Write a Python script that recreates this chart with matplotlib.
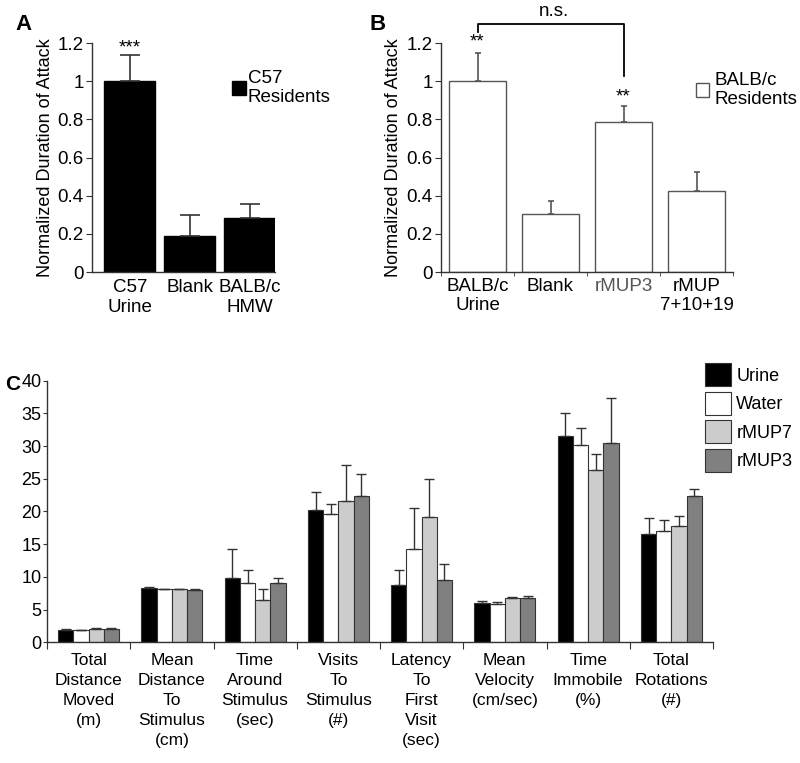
import numpy as np
import matplotlib
matplotlib.use('Agg')
import matplotlib.pyplot as plt
from matplotlib.patches import Patch

plt.rcParams['font.family'] = ['Liberation Sans', 'DejaVu Sans']

# panel A
a_labels = ['C57\nUrine', 'Blank', 'BALB/c\nHMW']
a_mean = [1.0, 0.19, 0.285]
a_err = [0.135, 0.108, 0.07]

# panel B
b_labels = ['BALB/c\nUrine', 'Blank', 'rMUP3', 'rMUP\n7+10+19']
b_mean = [1.0, 0.306, 0.784, 0.426]
b_err = [0.145, 0.068, 0.088, 0.10]

# panel C
c_labels = ['Total\nDistance\nMoved\n(m)', 'Mean\nDistance\nTo\nStimulus\n(cm)',
            'Time\nAround\nStimulus\n(sec)', 'Visits\nTo\nStimulus\n(#)',
            'Latency\nTo\nFirst\nVisit\n(sec)', 'Mean\nVelocity\n(cm/sec)',
            'Time\nImmobile\n(%)', 'Total\nRotations\n(#)']
series = ['Urine', 'Water', 'rMUP7', 'rMUP3']
urine = [1.9, 8.25, 9.8, 20.3, 8.7, 6.05, 31.6, 16.6]
urine_err = [0.1, 0.25, 4.4, 2.7, 2.35, 0.25, 3.5, 2.45]
water = [1.85, 8.1, 9.1, 19.55, 14.2, 5.8, 30.2, 17.0]
water_err = [0.05, 0.1, 1.9, 1.65, 6.4, 0.35, 2.5, 1.7]
rmup7 = [2.1, 8.15, 6.5, 21.55, 19.1, 6.7, 26.3, 17.8]
rmup7_err = [0.1, 0.05, 1.6, 5.55, 5.8, 0.3, 2.55, 1.45]
rmup3 = [2.1, 7.95, 9.0, 22.3, 9.6, 6.7, 30.4, 22.4]
rmup3_err = [0.1, 0.15, 0.9, 3.4, 2.3, 0.45, 7.0, 1.1]

W, H = 800, 763
fig = plt.figure(figsize=(W / 100, H / 100), dpi=100)

def fr(x0, y0, x1, y1):
    # pixel box -> figure fraction rect
    return [x0 / W, 1 - y1 / H, (x1 - x0) / W, (y1 - y0) / H]

ink = '#333333'
fs = 13.5

def style(ax):
    for s in ['top', 'right']:
        ax.spines[s].set_visible(False)
    for s in ['left', 'bottom']:
        ax.spines[s].set_color(ink)
        ax.spines[s].set_linewidth(1.0)

# ---- A
axA = fig.add_axes(fr(92, 43, 275, 272))
xa = np.arange(len(a_mean))
axA.bar(xa, a_mean, width=0.85, color='black', edgecolor='black',
        yerr=[np.zeros(len(a_err)), a_err], capsize=7,
        error_kw=dict(ecolor=ink, elinewidth=1.2, capthick=1.2))
axA.set_xlim(-0.633, 2.417)
axA.set_ylim(0, 1.2)
axA.set_yticks([0, 0.2, 0.4, 0.6, 0.8, 1.0, 1.2])
axA.set_yticklabels(['0', '0.2', '0.4', '0.6', '0.8', '1', '1.2'])
axA.set_xticks(xa)
axA.set_xticklabels(a_labels, linespacing=1.2)
axA.tick_params(axis='x', length=0, pad=5, labelsize=fs)
axA.tick_params(axis='y', length=4, pad=2, labelsize=fs, color=ink)
axA.set_ylabel('Normalized Duration of Attack', fontsize=13)
axA.yaxis.set_label_coords(-0.21, 0.5)
style(axA)
axA.text(0, 1.13, '***', ha='center', va='bottom', fontsize=fs)
axA.legend(handles=[Patch(facecolor='black', edgecolor='black')],
           labels=['C57\nResidents'], loc='center left',
           bbox_to_anchor=(232 / W, 1 - 88 / H), bbox_transform=fig.transFigure,
           frameon=False, borderpad=0, borderaxespad=0, handlelength=0.75,
           handleheight=0.75, handletextpad=0.1, fontsize=fs)

# ---- B
axB = fig.add_axes(fr(441, 43, 733, 272))
xb = np.arange(len(b_mean))
axB.bar(xb, b_mean, width=0.78, color='white', edgecolor='#555555', linewidth=1.0,
        yerr=[np.zeros(len(b_err)), b_err], capsize=2.5,
        error_kw=dict(ecolor='#555555', elinewidth=1.2, capthick=1.2))
axB.set_xlim(-0.5, 3.5)
axB.set_ylim(0, 1.2)
axB.set_yticks([0, 0.2, 0.4, 0.6, 0.8, 1.0, 1.2])
axB.set_yticklabels(['0', '0.2', '0.4', '0.6', '0.8', '1', '1.2'])
axB.set_xticks(xb)
axB.set_xticklabels(b_labels, linespacing=1.2)
axB.get_xticklabels()[2].set_color('#555555')
axB.set_xticks(np.arange(-0.5, 4, 1.0), minor=True)
axB.tick_params(axis='x', which='major', length=0, pad=4, labelsize=fs)
axB.tick_params(axis='x', which='minor', length=3, color=ink)
axB.tick_params(axis='y', length=4, pad=2, labelsize=fs, color=ink)
axB.set_ylabel('Normalized Duration of Attack', fontsize=13)
axB.yaxis.set_label_coords(-0.134, 0.5)
style(axB)
axB.text(0, 1.16, '**', ha='center', va='bottom', fontsize=fs)
axB.text(2, 0.875, '**', ha='center', va='bottom', fontsize=fs)
axB.plot([0, 0, 2, 2], [1.258, 1.30, 1.30, 1.027], color='black', lw=1.3, clip_on=False)
axB.text(1.05, 1.32, 'n.s.', ha='center', va='bottom', fontsize=fs)
axB.legend(handles=[Patch(facecolor='white', edgecolor='#555555')],
           labels=['BALB/c\nResidents'], loc='center left',
           bbox_to_anchor=(696 / W, 1 - 90 / H), bbox_transform=fig.transFigure,
           frameon=False, borderpad=0, borderaxespad=0, handlelength=0.7,
           handleheight=0.7, handletextpad=0.3, fontsize=fs)

# ---- C
axC = fig.add_axes(fr(47, 380.7, 713, 642.3))
xc = np.arange(len(urine)) + 0.5
bw = 0.183
colors = ['black', 'white', '#cccccc', '#808080']
vals = [urine, water, rmup7, rmup3]
errs = [urine_err, water_err, rmup7_err, rmup3_err]
for i, (v, e, c, name) in enumerate(zip(vals, errs, colors, series)):
    axC.bar(xc + (i - 1.5) * bw, v, width=bw, color=c, edgecolor=ink, linewidth=0.8,
            label=name, yerr=[np.zeros(len(e)), e], capsize=3.5,
            error_kw=dict(ecolor=ink, elinewidth=1.0, capthick=1.0))
axC.set_xlim(0, 8)
axC.set_ylim(0, 40)
axC.set_yticks(np.arange(0, 41, 5))
axC.set_xticks(np.arange(0, 9, 1))
axC.set_xticklabels([])
axC.set_xticks(xc, minor=True)
axC.set_xticklabels(c_labels, minor=True, linespacing=1.4, fontsize=12.5)
axC.tick_params(axis='x', which='major', length=5, color=ink, direction='out')
axC.tick_params(axis='x', which='minor', length=0, pad=8)
axC.tick_params(axis='y', length=3, pad=1, labelsize=13, color=ink)
style(axC)
axC.legend(loc='upper left', bbox_to_anchor=(705 / W, 1 - 363 / H),
           bbox_transform=fig.transFigure, frameon=False, borderpad=0,
           borderaxespad=0, handlelength=1.44, handleheight=1.6, labelspacing=0.3,
           handletextpad=0.3, fontsize=13)

fig.text(23 / W, 1 - 25 / H, 'A', fontsize=16, fontweight='bold', ha='center', va='center')
fig.text(378 / W, 1 - 25 / H, 'B', fontsize=16, fontweight='bold', ha='center', va='center')
fig.text(13 / W, 1 - 385 / H, 'C', fontsize=15, fontweight='bold', ha='center', va='center')

fig.savefig('out.png', dpi=100)
